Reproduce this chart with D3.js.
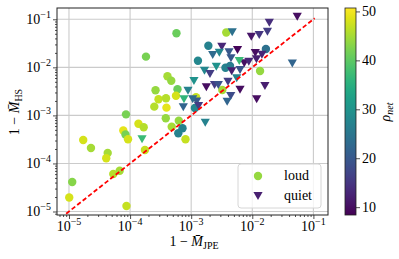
<!DOCTYPE html>
<html>
<head>
<meta charset="utf-8">
<script src="https://cdn.jsdelivr.net/npm/d3@7"></script>
<style>
body{margin:0;background:#fff;}
text{font-family:"Liberation Serif","DejaVu Serif",serif;fill:#000;}
</style>
</head>
<body>
<svg id="chart" width="399" height="259"></svg>
<script>
// loud events: 1-M_JPE, 1-M_HS, rho_net
var loudX=[5.74e-4,1.82e-4,1.91e-3,1.29e-3,4.09e-4,4.72e-4,2.61e-4,5.97e-4,2.92e-4,3.87e-4,5.64e-4,2.49e-4,3.94e-4,8.57e-5,3.84e-4,1.37e-4,1.67e-4,7.74e-5,8.41e-5,9.25e-5,1.71e-5,2.29e-5,4.30e-5,4.07e-5,5.31e-5,6.76e-5,1.13e-5,1.01e-5,8.73e-5,1.75e-4,4.80e-4,6.27e-4,6.15e-4,7.21e-4,8.07e-4,3.75e-3,1.67e-2,1.34e-2,3.64e-3,4.32e-3,3.23e-3,1.20e-3,1.15e-3];
var loudY=[5.12e-2,1.67e-2,2.81e-2,1.37e-2,6.52e-3,5.27e-3,3.33e-3,3.49e-3,2.16e-3,2.27e-3,2.57e-3,1.52e-3,1.45e-3,1.05e-3,8.71e-4,6.71e-4,5.65e-4,4.85e-4,4.00e-4,3.18e-4,3.08e-4,2.10e-4,1.65e-4,1.28e-4,6.03e-5,7.06e-5,4.11e-5,1.95e-5,1.30e-5,1.91e-4,5.82e-4,7.73e-4,4.24e-4,5.40e-4,3.18e-4,5.31e-2,2.41e-2,8.39e-3,9.84e-3,1.07e-2,3.38e-3,2.38e-3,1.43e-3];
var loudRho=[41,42,27,28,45,44,44,41,47,46,48,46,49,42,44,48,46,49,42,48,48,45,45,48,46,45,43,48,47,47,45,44,27,27,47,45,24,44,27,26,45,47,28];

// quiet events
var quietX=[5.44e-2,1.90e-2,4.69e-3,9.64e-3,1.30e-2,1.77e-2,3.17e-3,2.25e-3,2.89e-3,4.16e-3,5.73e-3,4.48e-3,1.12e-2,1.44e-2,7.40e-3,8.77e-3,1.17e-2,4.52e-2,6.12e-3,2.58e-3,1.65e-3,2.03e-3,4.60e-3,6.30e-3,5.56e-3,1.11e-3,1.77e-3,2.41e-3,2.78e-3,4.00e-3,1.61e-2,6.30e-3,4.44e-3,3.88e-3,1.18e-2,1.70e-3,8.87e-4,7.62e-4,1.23e-3,1.06e-3,7.43e-4,1.57e-4,1.32e-3];
var quietY=[1.13e-1,8.49e-2,5.36e-2,4.35e-2,4.71e-2,5.52e-2,2.69e-2,1.81e-2,2.02e-2,2.06e-2,2.30e-2,1.54e-2,1.99e-2,1.83e-2,1.21e-2,1.31e-2,1.47e-2,1.20e-2,1.36e-2,1.03e-2,8.51e-3,7.28e-3,8.28e-3,8.81e-3,5.92e-3,5.20e-3,3.85e-3,4.29e-3,4.29e-3,5.02e-3,4.09e-3,3.43e-3,2.54e-3,1.93e-3,2.16e-3,7.05e-4,3.27e-3,2.16e-3,1.95e-3,2.16e-3,1.48e-3,3.18e-4,1.57e-3];
var quietRho=[10,14,24,11,15,16,13,23,28,20,9,20,10,13,10,13,12,22,37,30,28,16,12,19,27,30,10,16,19,16,12,10,18,22,10,27,27,36,20,23,22,37,16];

var majorTicks=[1e-5,1e-4,1e-3,1e-2,1e-1];
var tickExp=["−5","−4","−3","−2","−1"];
var cbarTicks=[10,20,30,40,50];
var diagLine=[9e-6,1.05e-1];

var svg=d3.select("#chart");
var L=57,R=328,T=8,B=215;

var x=d3.scaleLog().domain([Math.pow(10,-5.196),Math.pow(10,-0.761)]).range([L,R]);
var y=d3.scaleLog().domain([Math.pow(10,-5.073),Math.pow(10,-0.765)]).range([B,T]);
var cmin=8.4,cmax=50.7;
var color=d3.scaleSequential(d3.interpolateViridis).domain([cmin,cmax]);

// minor ticks inside the domain
function minors(sc){
    var out=[],d=sc.domain();
    for(var e=-6;e<=0;e++){
        for(var k=2;k<=9;k++){
            var v=k*Math.pow(10,e);
            if(v>=d[0]&&v<=d[1]) out.push(v);
        }
    }
    return out;
}

// grid
var grid=svg.append("g");
majorTicks.forEach(function(v){
    grid.append("line").attr("x1",x(v)).attr("x2",x(v)).attr("y1",T).attr("y2",B)
        .style("stroke","#cbcbcb").style("stroke-width",1.1);
    grid.append("line").attr("x1",L).attr("x2",R).attr("y1",y(v)).attr("y2",y(v))
        .style("stroke","#cbcbcb").style("stroke-width",1.1);
})

// points
var pts=svg.append("g");
loudX.forEach(function(v,i){
    pts.append("circle").attr("cx",x(v)).attr("cy",y(loudY[i])).attr("r",4.2)
        .style("fill",color(loudRho[i]));
})
var tri="M-4.6,-4L4.6,-4L0,4Z";
quietX.forEach(function(v,i){
    pts.append("path").attr("d",tri).attr("transform","translate("+x(v)+","+y(quietY[i])+")")
        .style("fill",color(quietRho[i]));
})

// y = x line
svg.append("line").attr("x1",x(diagLine[0])).attr("y1",y(diagLine[0])).attr("x2",x(diagLine[1])).attr("y2",y(diagLine[1]))
    .style("stroke","#ff0000").style("stroke-width",1.8).style("stroke-dasharray","4.5,2.5");

// axes (ticks only)
var xa=svg.append("g").attr("transform","translate(0,"+B+")");
xa.call(d3.axisBottom(x).tickValues(majorTicks).tickSize(4).tickFormat(""));
xa.append("g").call(d3.axisBottom(x).tickValues(minors(x)).tickSize(2).tickFormat(""));
var ya=svg.append("g").attr("transform","translate("+L+",0)");
ya.call(d3.axisLeft(y).tickValues(majorTicks).tickSize(4).tickFormat(""));
ya.append("g").call(d3.axisLeft(y).tickValues(minors(y)).tickSize(2).tickFormat(""));
svg.selectAll(".domain").remove();
svg.selectAll(".tick line").style("stroke","#222").style("stroke-width",0.8);

// frame
svg.append("rect").attr("x",L).attr("y",T).attr("width",R-L).attr("height",B-T)
    .style("fill","none").style("stroke","#222").style("stroke-width",1);

// tick labels
majorTicks.forEach(function(v,i){
    var t=svg.append("text").attr("x",x(v)).attr("y",231).attr("text-anchor","middle").style("font-size","14px");
    t.append("tspan").text("10");
    t.append("tspan").attr("dy",-6).style("font-size","10px").text(tickExp[i]);
    var s=svg.append("text").attr("x",51).attr("y",y(v)+5).attr("text-anchor","end").style("font-size","14px");
    s.append("tspan").text("10");
    s.append("tspan").attr("dy",-6).style("font-size","10px").text(tickExp[i]);
})

// axis labels
var xl=svg.append("text").attr("x",194).attr("y",246).attr("text-anchor","middle").style("font-size","14px");
xl.append("tspan").text("1 − ");
xl.append("tspan").style("font-style","italic").text("M\u0304");
xl.append("tspan").attr("dy",3).style("font-size","10px").text("JPE");

var yl=svg.append("text").attr("transform","translate(19,112) rotate(-90)").attr("text-anchor","middle").style("font-size","14px");
yl.append("tspan").text("1 − ");
yl.append("tspan").style("font-style","italic").text("M\u0304");
yl.append("tspan").attr("dy",3).style("font-size","10px").text("HS");

// legend
var lg=svg.append("g");
lg.append("rect").attr("x",238).attr("y",164).attr("width",83).attr("height",44).attr("rx",3)
    .style("fill","#fff").style("fill-opacity",0.8).style("stroke","#d6d6d6").style("stroke-width",1);
lg.append("circle").attr("cx",258).attr("cy",176).attr("r",4.2).style("fill",color(44));
lg.append("path").attr("d",tri).attr("transform","translate(258,196)").style("fill",color(12));
lg.append("text").attr("x",284).attr("y",180).style("font-size","14px").text("loud");
lg.append("text").attr("x",284).attr("y",200).style("font-size","14px").text("quiet");

// colorbar
var cy=d3.scaleLinear().domain([cmin,cmax]).range([B,T]);
var cx0=345,cw=11;
var defs=svg.append("defs");
var grad=defs.append("linearGradient").attr("id","vir").attr("x1",0).attr("y1",1).attr("x2",0).attr("y2",0);
d3.range(0,1.0001,0.05).forEach(function(f){
    grad.append("stop").attr("offset",f).attr("stop-color",d3.interpolateViridis(f));
})
svg.append("rect").attr("x",cx0).attr("y",T).attr("width",cw).attr("height",B-T).style("fill","url(#vir)")
    .style("stroke","#222").style("stroke-width",0.8);
var ca=svg.append("g").attr("transform","translate("+(cx0+cw)+",0)");
ca.call(d3.axisRight(cy).tickValues(cbarTicks).tickSize(4).tickFormat(""));
ca.select(".domain").remove();
ca.selectAll(".tick line").style("stroke","#222").style("stroke-width",0.8);
cbarTicks.forEach(function(v){
    svg.append("text").attr("x",362).attr("y",cy(v)+5).style("font-size","14px").text(v);
})
var cl=svg.append("text").attr("transform","translate(390,112) rotate(-90)").attr("text-anchor","middle").style("font-size","14px");
cl.append("tspan").style("font-style","italic").text("ρ");
cl.append("tspan").attr("dy",3).style("font-size","10px").style("font-style","italic").text("net");
</script>
</body>
</html>
